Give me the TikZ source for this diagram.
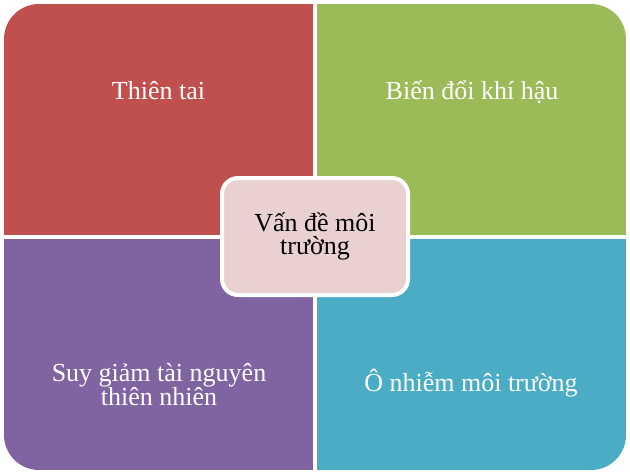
\documentclass[tikz,border=0pt]{standalone}
\usepackage{fontspec}
\setmainfont{Liberation Serif}
\definecolor{qred}{HTML}{C0504D}
\definecolor{qgreen}{HTML}{9BBB59}
\definecolor{qpurple}{HTML}{8064A2}
\definecolor{qteal}{HTML}{4BACC6}
\definecolor{cfill}{HTML}{E9D1D1}
\begin{document}
\begin{tikzpicture}[x=1pt,y=-1pt,
  quad/.style={rectangle,inner sep=0pt,outer sep=0pt,minimum width=309pt,minimum height=231pt,anchor=north west},
  lbl/.style={text=white,font=\fontsize{26}{24}\selectfont,align=center,inner sep=0pt},
  hub/.style={rectangle,rounded corners=16pt,fill=cfill,draw=white,line width=4pt,minimum width=186pt,minimum height=117pt,font=\fontsize{26}{23}\selectfont,align=center,text=black}]
\useasboundingbox (0,0) rectangle (630,474);
\begin{scope}
  \clip[rounded corners=35pt] (4,4) rectangle (626,470);
  \node[quad,fill=qred] (tl) at (4,4) {};
  \node[quad,fill=qgreen] (tr) at (317,4) {};
  \node[quad,fill=qpurple,minimum height=231pt] (bl) at (4,239) {};
  \node[quad,fill=qteal,minimum height=231pt] (br) at (317,239) {};
\end{scope}
\node[lbl,anchor=base] (t1) at (158.5,99) {Thiên tai};
\node[lbl,anchor=base] (t2) at (472,99) {Biến đổi khí hậu};
\node[lbl] (t3) at (159,385) {Suy giảm tài nguyên\\thiên nhiên};
\node[lbl,anchor=base] (t4) at (471,391) {Ô nhiễm môi trường};
\node[hub] (c) at (315,236.5) {Vấn đề môi\\trường};
\end{tikzpicture}
\end{document}
